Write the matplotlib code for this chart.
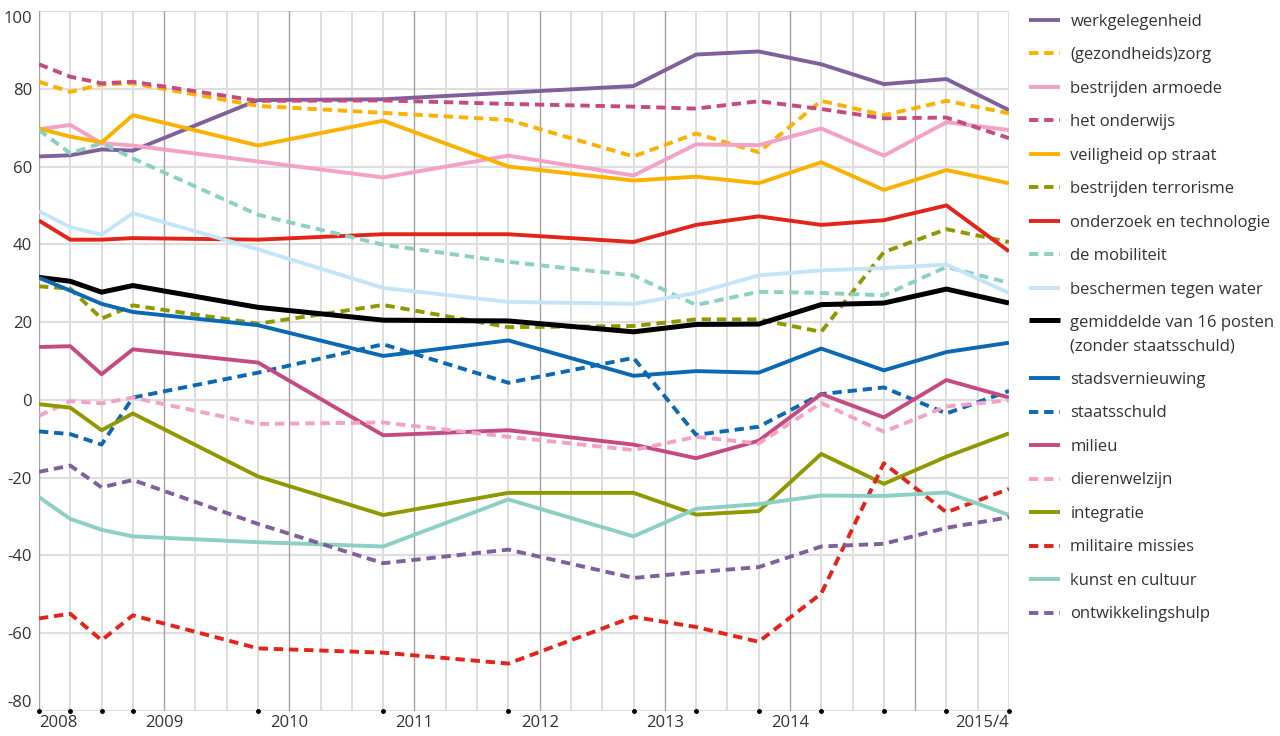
import matplotlib.pyplot as plt

plt.rcParams['font.family'] = ['Open Sans', 'DejaVu Sans']

# kwartalen vanaf 2008/1 (0) t/m 2015/4 (31)
kwartaal = [0, 1, 2, 3, 7, 11, 15, 19, 21, 23, 25, 27, 29, 31]
jaar_ticks = [0, 4, 8, 12, 16, 20, 24, 28, 31]
jaar_labels = ['2008', '2009', '2010', '2011', '2012', '2013', '2014', '', '2015/4']

werkgelegenheid = [62.6, 62.9, 64.4, 64.1, 77.1, 77.3, 79.0, 80.7, 88.8, 89.6, 86.3, 81.2, 82.5, 74.5]
zorg = [81.8, 79.2, 81.1, 81.4, 75.6, 73.8, 72.0, 62.6, 68.5, 63.7, 76.9, 73.2, 76.9, 73.7]
armoede = [69.6, 70.7, 66.0, 65.4, 61.3, 57.2, 62.8, 57.7, 65.7, 65.5, 69.8, 62.8, 71.4, 69.4]
onderwijs = [86.3, 83.1, 81.4, 81.8, 76.9, 77.0, 76.1, 75.4, 74.9, 76.8, 74.8, 72.4, 72.6, 67.3]
veiligheid = [69.8, 67.7, 66.2, 73.2, 65.4, 71.8, 60.0, 56.4, 57.4, 55.7, 61.1, 54.0, 59.1, 55.7]
terrorisme = [29.2, 28.6, 20.9, 24.3, 19.6, 24.4, 18.7, 19.0, 20.7, 20.7, 17.5, 38.0, 43.9, 40.6]
onderzoek = [46.1, 41.2, 41.2, 41.6, 41.2, 42.6, 42.6, 40.6, 45.0, 47.2, 45.0, 46.2, 50.0, 38.2]
mobiliteit = [69.4, 63.4, 66.0, 62.1, 47.6, 39.9, 35.5, 32.0, 24.4, 27.8, 27.5, 26.9, 34.2, 30.1]
water = [48.5, 44.4, 42.5, 48.0, 38.7, 28.8, 25.2, 24.7, 27.5, 32.0, 33.3, 33.9, 34.8, 27.5]
gemiddelde = [31.5, 30.5, 27.7, 29.4, 23.8, 20.5, 20.3, 17.5, 19.4, 19.5, 24.5, 24.9, 28.5, 24.9]
stadsvernieuwing = [31.4, 28.1, 24.7, 22.6, 19.2, 11.3, 15.3, 6.2, 7.4, 7.0, 13.2, 7.6, 12.3, 14.7]
staatsschuld = [-8.1, -8.8, -11.5, 0.6, 7.0, 14.3, 4.4, 10.8, -9.0, -6.9, 1.5, 3.2, -3.5, 2.3]
milieu = [13.6, 13.8, 6.6, 13.0, 9.6, -9.1, -7.8, -11.5, -15.0, -10.5, 1.5, -4.5, 5.1, 0.6]
dierenwelzijn = [-4.1, -0.3, -0.9, 0.6, -6.2, -5.8, -9.5, -12.9, -9.5, -11.2, -0.8, -8.2, -1.7, -0.1]
integratie = [-1.1, -2.0, -7.8, -3.5, -19.7, -29.6, -23.9, -23.9, -29.5, -28.6, -13.9, -21.6, -14.6, -8.6]
militaire = [-56.2, -55.0, -61.8, -55.4, -63.9, -65.0, -67.8, -55.8, -58.4, -62.2, -49.8, -16.3, -28.9, -22.9]
kunst = [-25.0, -30.6, -33.4, -35.1, -36.6, -37.7, -25.6, -35.1, -28.0, -26.8, -24.6, -24.7, -23.8, -29.6]
ontwikkeling = [-18.5, -16.9, -22.5, -20.6, -31.9, -42.0, -38.5, -45.8, -44.3, -43.0, -37.7, -37.0, -32.9, -30.2]

paars = '#80609a'
oranje = '#fbb100'
roze = '#f4a1c6'
magenta = '#c64a82'
olijf = '#909800'
rood = '#e3241b'
mint = '#8bd0c2'
lichtblauw = '#c4e5f8'
blauw = '#0a69b2'

# label, waarden, kleur, gestippeld
reeksen = [
    ('werkgelegenheid', werkgelegenheid, paars, False),
    ('(gezondheids)zorg', zorg, oranje, True),
    ('bestrijden armoede', armoede, roze, False),
    ('het onderwijs', onderwijs, magenta, True),
    ('veiligheid op straat', veiligheid, oranje, False),
    ('bestrijden terrorisme', terrorisme, olijf, True),
    ('onderzoek en technologie', onderzoek, rood, False),
    ('de mobiliteit', mobiliteit, mint, True),
    ('beschermen tegen water', water, lichtblauw, False),
    ('gemiddelde van 16 posten\n(zonder staatsschuld)', gemiddelde, 'black', False),
    ('stadsvernieuwing', stadsvernieuwing, blauw, False),
    ('staatsschuld', staatsschuld, blauw, True),
    ('milieu', milieu, magenta, False),
    ('dierenwelzijn', dierenwelzijn, roze, True),
    ('integratie', integratie, olijf, False),
    ('militaire missies', militaire, rood, True),
    ('kunst en cultuur', kunst, mint, False),
    ('ontwikkelingshulp', ontwikkeling, paars, True),
]

fig = plt.figure(figsize=(12.8, 7.36), dpi=100)
ax = fig.add_axes([39 / 1280, 1 - 711 / 736, 970 / 1280, 700 / 736])

# raster
for q in range(32):
    if q % 4 == 0:
        ax.axvline(q, color='#a59ea3', lw=1.0, zorder=1)
    else:
        ax.axvline(q, color='#dedede', lw=1.4, zorder=0)
for yv in range(-80, 101, 20):
    ax.axhline(yv, color='#dedede', lw=1.6, zorder=0)

for label, vals, kleur, stip in reeksen:
    lw = 3.6 if kleur == 'black' else 2.8
    if stip:
        ax.plot(kwartaal, vals, color=kleur, lw=lw, dashes=(2.4, 1.5), label=label, zorder=3)
    else:
        ax.plot(kwartaal, vals, color=kleur, lw=lw, label=label, zorder=3,
                solid_capstyle='butt')

# meetmomenten
ax.plot(kwartaal, [-80] * len(kwartaal), 'k.', ms=5, clip_on=False, zorder=5)

ax.set_xlim(0, 31)
ax.set_ylim(-80, 100)
for s in ax.spines.values():
    s.set_visible(False)

ax.set_yticks(range(-80, 101, 20))
ax.set_yticklabels([str(v) for v in range(-80, 101, 20)], fontsize=12, color='#333333')
ylabs = ax.get_yticklabels()
ylabs[0].set_va('bottom')
ylabs[-1].set_va('top')
ax.tick_params(axis='y', length=0, pad=5)

ax.set_xticks(jaar_ticks)
ax.set_xticklabels(jaar_labels, fontsize=12, color='#333333')
xlabs = ax.get_xticklabels()
xlabs[0].set_ha('left')
xlabs[-1].set_ha('right')
ax.tick_params(axis='x', length=0, pad=3)

leg = ax.legend(loc='upper left', bbox_to_anchor=(1022 / 1280, 1 - 7 / 736), bbox_transform=fig.transFigure,
                frameon=False, fontsize=12, handlelength=1.9, handletextpad=0.6,
                labelspacing=1.05, borderaxespad=0.0)
for t in leg.get_texts():
    t.set_color('#333333')
# tweeregelig label: ruimere regelafstand, lijntje bij de eerste regel
leg.get_texts()[9].set_linespacing(1.6)
zwart = leg.legend_handles[9]
zwart.set_ydata([y + 11 for y in zwart.get_ydata()])

fig.savefig('out.png', dpi=100)
